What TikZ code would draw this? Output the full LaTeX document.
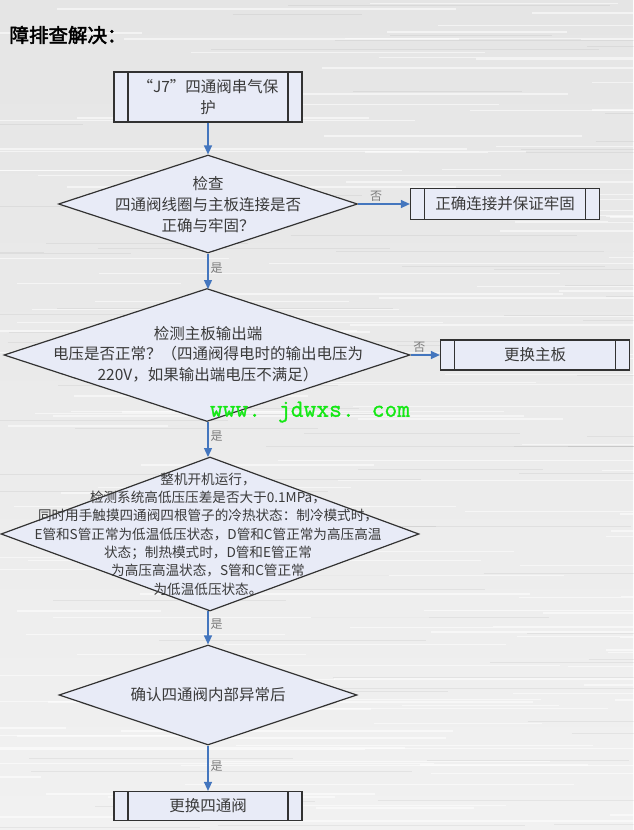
\documentclass[tikz,border=0pt]{standalone}
\usepackage{fontspec}
\usepackage{tikz}
\usetikzlibrary{shapes.geometric}
\usetikzlibrary{arrows.meta}

\newfontfamily\cjk{Noto Sans CJK SC}
\newfontfamily\cjkbold[FakeBold=2.5]{Noto Sans CJK SC}
\newfontfamily\wmfont[FakeBold=1.2]{Latin Modern Mono}

\definecolor{bgtop}{RGB}{229,229,229}
\definecolor{bgbottom}{RGB}{241,241,241}
\definecolor{shapefill}{RGB}{232,235,247}
\definecolor{edgec}{RGB}{50,50,50}
\definecolor{arrowc}{RGB}{68,118,190}
\definecolor{textc}{RGB}{58,58,58}
\definecolor{labelc}{RGB}{125,125,125}
\definecolor{wmgreen}{RGB}{20,232,20}

\tikzset{
	dia/.style = {diamond, draw = edgec, fill = shapefill, line width = 1.2pt, inner sep = 0pt},
	proc/.style = {rectangle, draw = edgec, fill = shapefill, line width = 1.2pt, inner sep = 0pt,
		path picture = {
			\draw[edgec, line width = 1.2pt] ([xshift = 14pt]path picture bounding box.north west) -- ([xshift = 14pt]path picture bounding box.south west);
			\draw[edgec, line width = 1.2pt] ([xshift = -14pt]path picture bounding box.north east) -- ([xshift = -14pt]path picture bounding box.south east);
		}},
	txt/.style = {align = center, text = textc, font = \cjk\fontsize{15.5}{21}\selectfont},
	arr/.style = {draw = arrowc, line width = 1.3pt, -{Triangle[length = 9pt, width = 8pt]}},
	lbl/.style = {text = labelc, font = \cjk\fontsize{12}{12}\selectfont, inner sep = 2pt},
}

\begin{document}
\begin{tikzpicture}[x = 1pt, y = -1pt]
				\useasboundingbox (0, 0) rectangle (633, 830);

				% brushed background
				\shade[top color = bgtop, bottom color = bgbottom] (0, 0) rectangle (633, 830);
				\pgfmathsetseed{12}
				\foreach \k in {1, ..., 150}{
					\pgfmathsetmacro{\yy}{830*rnd}
					\pgfmathsetmacro{\xa}{733*rnd - 100}
					\pgfmathsetmacro{\len}{120 + 380*rnd}
					\draw[white, opacity = 0.55, line width = 1.4pt] (\xa, \yy) -- ++(\len, 0);
				}
				\foreach \k in {1, ..., 80}{
					\pgfmathsetmacro{\yy}{830*rnd}
					\pgfmathsetmacro{\xa}{733*rnd - 100}
					\pgfmathsetmacro{\len}{100 + 300*rnd}
					\draw[black, opacity = 0.05, line width = 1pt] (\xa, \yy) -- ++(\len, 0);
				}

				\node[anchor = west, font = \cjkbold\fontsize{19.5}{20}\selectfont] (title) at (6, 35) {障排查解决：};

				% boxes
				\node[proc, txt, minimum width = 188pt, minimum height = 50pt] (b1) at (208, 97) {“J7”四通阀串气保\\护};
				\node[proc, txt, minimum width = 189pt, minimum height = 31pt] (b2) at (505, 204) {正确连接并保证牢固};
				\node[proc, txt, minimum width = 189pt, minimum height = 30pt] (b3) at (535, 355) {更换主板};
				\node[proc, txt, minimum width = 188pt, minimum height = 29pt] (b4) at (208, 806) {更换四通阀};

				% diamonds
				\node[dia, minimum width = 299pt, minimum height = 98pt] (d1) at (208, 204) {};
				\node[txt] (d1t) at (208, 205) {检查\\四通阀线圈与主板连接是否\\正确与牢固？};

				\node[dia, minimum width = 406pt, minimum height = 133pt] (d2) at (207, 355) {};
				\node[txt, font = \cjk\fontsize{15.5}{20.5}\selectfont] (d2t) at (208, 354) {检测主板输出端\\电压是否正常？（四通阀得电时的输出电压为\\220V，如果输出端电压不满足）};

				\node[dia, minimum width = 418pt, minimum height = 154pt] (d3) at (210, 534) {};
				\node[txt, font = \cjk\fontsize{13.6}{18.3}\selectfont] (d3t) at (208, 534) {整机开机运行，\\检测系统高低压压差是否大于0.1MPa，\\同时用手触摸四通阀四根管子的冷热状态：制冷模式时，\\E管和S管正常为低温低压状态，D管和C管正常为高压高温\\状态；制热模式时，D管和E管正常\\为高压高温状态，S管和C管正常\\为低温低压状态。};

				\node[dia, minimum width = 298pt, minimum height = 100pt] (d4) at (208, 695) {};
				\node[txt] (d4t) at (208, 695) {确认四通阀内部异常后};

				% connectors
				\draw[arr] (b1.south) -- (d1.north);
				\draw[arr] (d1.east) -- node[lbl, above, pos = 0.35] {否} (b2.west);
				\draw[arr] (d1.south) -- node[lbl, right, pos = 0.4] {是} (208, 289);
				\draw[arr] (d2.east) -- node[lbl, above, pos = 0.3] {否} (b3.west);
				\draw[arr] (208, 422) -- node[lbl, right, pos = 0.4] {是} (208, 457);
				\draw[arr] (208, 611) -- node[lbl, right, pos = 0.4] {是} (d4.north);
				\draw[arr] (d4.south) -- node[lbl, right, pos = 0.45] {是} (b4.north);

				\node[text = wmgreen, font = \wmfont\fontsize{24.8}{25}\selectfont, inner sep = 0pt] (wm) at (310, 412) {www. jdwxs. com};
			\end{tikzpicture}
\end{document}
